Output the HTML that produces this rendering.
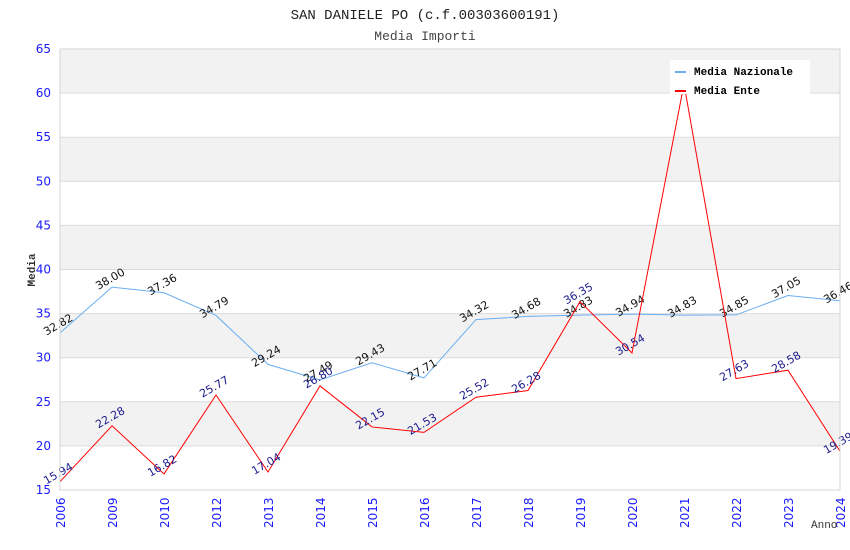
<!DOCTYPE html>
<html><head><meta charset="utf-8"><style>
body{margin:0;background:#fff;width:850px;height:550px;overflow:hidden}
svg{display:block;font-family:"DejaVu Sans","Liberation Sans",sans-serif}
</style></head><body>
<svg id="chart" width="850" height="550">
<text x="425" y="19" text-anchor="middle" font-family="Liberation Mono, monospace" font-size="14" fill="#222">SAN DANIELE PO (c.f.00303600191)</text>
<text x="425" y="40" text-anchor="middle" font-family="Liberation Mono, monospace" font-size="13" fill="#444">Media Importi</text>
<g id="grid"></g>
<g id="series"></g>
<g id="axes"></g>
<text transform="translate(35,270) rotate(-90)" text-anchor="middle" font-family="Liberation Mono, monospace" font-weight="bold" font-size="11" fill="#333">Media</text>
<text x="811" y="528" font-family="Liberation Mono, monospace" font-size="11" fill="#333">Anno</text>
<g>
<rect x="670" y="60" width="140" height="34" fill="#fff"/>
<rect x="662" y="60" width="8" height="26" fill="#f2f2f2"/>
<line x1="675" y1="72" x2="686" y2="72" stroke="#6aaef0" stroke-width="2"/>
<text x="694" y="75" font-family="Liberation Mono, monospace" font-weight="bold" font-size="11" fill="#000">Media Nazionale</text>
<line x1="675" y1="91" x2="686" y2="91" stroke="#ff0000" stroke-width="2"/>
<text x="694" y="94" font-family="Liberation Mono, monospace" font-weight="bold" font-size="11" fill="#000">Media Ente</text>
</g>
</svg>
<script>
const categories=["2006","2009","2010","2012","2013","2014","2015","2016","2017","2018","2019","2020","2021","2022","2023","2024"];
const nazionale=[32.82,38.00,37.36,34.79,29.24,27.49,29.43,27.71,34.32,34.68,34.83,34.94,34.83,34.85,37.05,36.46];
const ente=[15.94,22.28,16.82,25.77,17.04,26.80,22.15,21.53,25.52,26.28,36.35,30.54,61.03,27.63,28.58,19.39];
const yTicks=[15,20,25,30,35,40,45,50,55,60,65];
const NS="http://www.w3.org/2000/svg";
const L=60,R=840,T=49,B=490,yMin=15,yMax=65;
const xs=i=>L+i*(R-L)/(categories.length-1);
const ys=v=>B-(v-yMin)/(yMax-yMin)*(B-T);
function mk(tag,attrs,parent){const e=document.createElementNS(NS,tag);for(const k in attrs)e.setAttribute(k,attrs[k]);parent.appendChild(e);return e;}
const grid=document.getElementById('grid'),axes=document.getElementById('axes'),series=document.getElementById('series');
for(let i=0;i<yTicks.length-1;i++){
  if(i%2===1){const r=mk('rect',{x:L,y:ys(yTicks[i+1]),width:R-L,height:ys(yTicks[i])-ys(yTicks[i+1]),fill:'#f2f2f2'},grid);
  
  }
}
yTicks.forEach(v=>{
  const l=mk('line',{x1:L,x2:R,y1:ys(v),y2:ys(v),stroke:'#dcdcdc','stroke-width':1},grid);
  
  
  const t=mk('text',{x:L-9,y:ys(v)+4,'text-anchor':'end','font-size':12,fill:'#1a1aff'},axes);t.textContent=v;
  
  
});
const fr=mk('rect',{x:L,y:T,width:R-L,height:B-T,fill:'none',stroke:'#d6d6d6'},axes);


categories.forEach((c,i)=>{
  const t=mk('text',{transform:`translate(${xs(i)+5},${B+38}) rotate(-90)`,'font-size':12,fill:'#1a1aff'},axes);t.textContent=c;
  
  
});
function draw(vals,color,labelColor,name){
  const p=mk('polyline',{points:vals.map((v,i)=>xs(i)+','+ys(v)).join(' '),fill:'none',stroke:color,'stroke-width':1},series);
  
  
  vals.forEach((v,i)=>{
    const t=mk('text',{transform:`translate(${xs(i)},${ys(v)-5}) rotate(-30)`,'text-anchor':'middle','font-size':11,fill:labelColor},series);
    t.textContent=v.toFixed(2);
    
    
  });
}
draw(nazionale,'#6aaef0','#111','nazionale');
draw(ente,'#ff0000','#1a1a8c','ente');
</script>
</body></html>
